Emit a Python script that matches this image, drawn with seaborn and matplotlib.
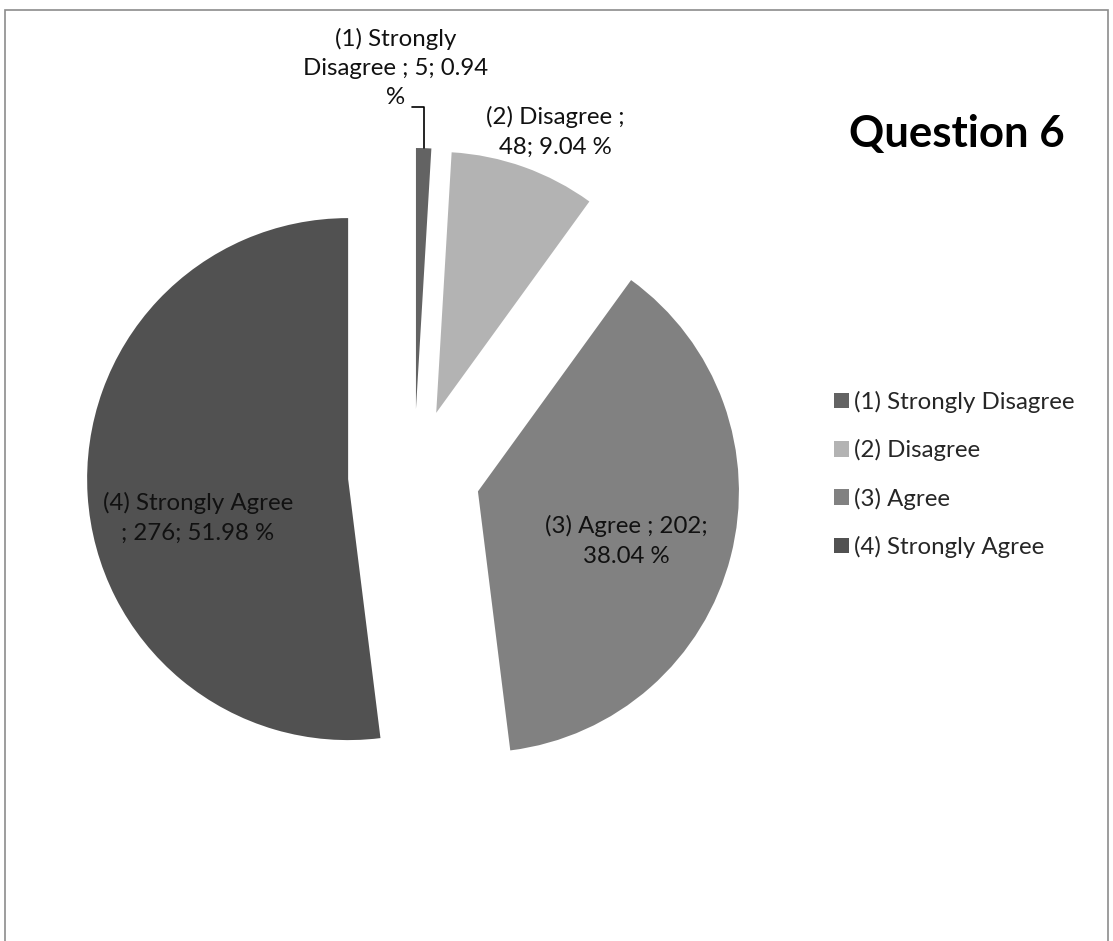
import matplotlib
matplotlib.use("Agg")
import matplotlib.pyplot as plt
import seaborn as sns
from matplotlib.patches import Rectangle, Patch

# Survey responses for question 6
categories = ["(1) Strongly Disagree", "(2) Disagree", "(3) Agree", "(4) Strongly Agree"]
counts = [5, 48, 202, 276]
percents = [0.94, 9.04, 38.04, 51.98]
colors = ["#636363", "#b3b3b3", "#818181", "#515151"]

sns.set_theme(style="white")
plt.rcParams["font.family"] = ["Lato", "DejaVu Sans"]

W, H = 1113, 941
fig = plt.figure(figsize=(W / 100, H / 100), dpi=100)
ax = fig.add_axes([0, 0, 1, 1])
ax.set_xlim(0, W)
ax.set_ylim(0, H)
ax.set_aspect("equal")
ax.axis("off")

# outer chart frame (bottom edge runs off the canvas)
ax.add_patch(Rectangle((5, -20), 1103, H - 5 + 20 - 5, fill=False,
                       edgecolor="#8c8c8c", linewidth=1.2))

center = (414, H - 475)
radius = 261
# matplotlib's explode offset is in data units here (pixels)
wedges, _ = ax.pie(counts, colors=colors, startangle=90, counterclock=False,
                   explode=[66] * len(counts), center=center, radius=radius,
                   wedgeprops=dict(linewidth=0))
ax.set_xlim(0, W)
ax.set_ylim(0, H)

FS = 17.3

# data labels: "category ; count; percent %"
lab = [f"{c} ; {n}; {p:.2f} %" for c, n, p in zip(categories, counts, percents)]
label_text = [
    lab[0].replace("Strongly ", "Strongly\n").replace(" %", "\n%"),
    lab[1].replace("; ", ";\n", 1),
    lab[2].replace(f"{counts[2]}; ", f"{counts[2]};\n"),
    lab[3].replace(" ;", "\n;"),
]
label_pos = [(396, H - 68), (555, H - 132), (626, H - 541), (198, H - 518)]
for txt, (x, y) in zip(label_text, label_pos):
    ax.text(x, y, txt, ha="center", va="center", fontsize=FS,
            color="#111111", linespacing=1.49)

# leader line for the thin first slice
ax.plot([412, 424, 424], [H - 107, H - 107, H - 148], color="black", linewidth=1.2)

# title
ax.text(957, H - 147, "Question 6", ha="center", va="baseline", fontsize=31.5,
        fontweight="bold", color="black")

# legend
handles = [Patch(facecolor=c, edgecolor="none") for c in colors]
leg = fig.legend(handles, categories, loc="upper left",
                 bbox_to_anchor=(834 / W, 1 - 391 / H), frameon=False,
                 fontsize=FS, handlelength=0.62, handleheight=0.62,
                 handletextpad=0.2, labelspacing=1.09, borderaxespad=0,
                 borderpad=0)

fig.savefig("out.png", dpi=100, facecolor="white")
